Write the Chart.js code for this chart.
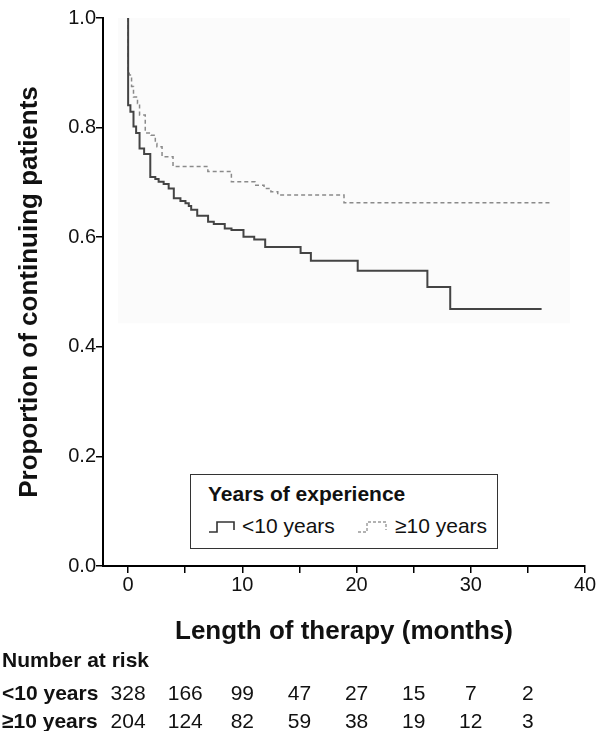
<!DOCTYPE html>
<html>
<head>
<meta charset="utf-8">
<script src="https://cdn.jsdelivr.net/npm/chart.js@4"></script>
<style>
  body { margin: 0; background: #fff; font-family: "Liberation Sans", Arial, sans-serif; }
  #wrap { position: relative; width: 597px; height: 731px; }
  #legend {
    position: absolute; left: 190px; top: 474px; width: 308px; height: 75px;
    border: 1.5px solid #333; background: #fff; box-sizing: border-box; color: #111;
  }
  #legend .ttl { position: absolute; left: 17px; top: 7px; font-weight: bold; font-size: 21px; }
  #legend .item { position: absolute; top: 39px; font-size: 21px; display: flex; align-items: center; }
  #legend svg { margin-right: 6px; }
</style>
</head>
<body>
<div id="wrap">
  <canvas id="km" width="597" height="731"></canvas>
  <div id="legend">
    <div class="ttl">Years of experience</div>
    <div class="item" style="left:17px">
      <svg width="28" height="16"><polyline points="1,14 9,14 9,4 26,4 26,12" fill="none" stroke="#333" stroke-width="1.6"/></svg>&lt;10 years
    </div>
    <div class="item" style="left:166px">
      <svg width="32" height="16"><polyline points="1,14 10,14 10,4 29,4 29,12" fill="none" stroke="#999" stroke-width="1.4" stroke-dasharray="3,2"/></svg>≥10 years
    </div>
  </div>
</div>
<script>
// data (months, proportion still on therapy)
const under10Months = [0, 0, 0.2, 0.47, 0.7, 1.0, 1.4, 1.94, 2.38, 2.67, 3.11, 3.55, 4.0, 4.58, 5.02, 5.31, 5.52, 6.05, 7.0, 7.5, 8.46, 9.05, 10.1, 11.04, 12.0, 15.1, 16.0, 20.1, 26.2, 28.2, 36.2];
const under10Surv = [1.0, 0.841, 0.829, 0.802, 0.79, 0.762, 0.752, 0.71, 0.706, 0.701, 0.697, 0.689, 0.671, 0.666, 0.662, 0.657, 0.65, 0.639, 0.628, 0.624, 0.616, 0.613, 0.601, 0.596, 0.582, 0.571, 0.557, 0.539, 0.509, 0.469, 0.469];

const over10Months = [0, 0, 0.1, 0.3, 0.47, 0.82, 1.0, 1.5, 2.0, 2.38, 2.52, 2.97, 3.93, 6.98, 9.04, 11.1, 11.9, 12.5, 13.1, 18.9, 36.9];
const over10Surv = [1.0, 0.899, 0.896, 0.875, 0.856, 0.844, 0.823, 0.79, 0.786, 0.771, 0.765, 0.747, 0.729, 0.72, 0.701, 0.695, 0.689, 0.683, 0.677, 0.663, 0.663];

const xTicks = [0, 5, 10, 15, 20, 25, 30, 35, 40];
const yTicks = [0, 0.2, 0.4, 0.6, 0.8, 1.0];

const riskMonths = [0, 5, 10, 15, 20, 25, 30, 35];
const riskUnder10 = [328, 166, 99, 47, 27, 15, 7, 2];
const riskOver10 = [204, 124, 82, 59, 38, 19, 12, 3];

const FONT = '"Liberation Sans", Arial, sans-serif';
const TICK_FONT = { family: FONT, size: 20 };

function toPoints(xs, ys) {
  return xs.map((x, i) => ({ x: x, y: ys[i] }));
}

// faint grey panel behind the curves (scanned original)
const panelPlugin = {
  id: 'panel',
  beforeDatasetsDraw(chart) {
    const { ctx, scales: { x, y } } = chart;
    const l = x.getPixelForValue(-0.9), r = x.getPixelForValue(38.7);
    const t = y.getPixelForValue(1.0), b = y.getPixelForValue(0.443);
    ctx.save();
    ctx.fillStyle = '#fbfbfb';
    ctx.fillRect(l, t, r - l, b - t);
    ctx.restore();
  }
};

// number-at-risk table under the x axis
const riskPlugin = {
  id: 'risk',
  afterDraw(chart) {
    const { ctx, scales: { x } } = chart;
    ctx.save();
    ctx.fillStyle = '#111';
    ctx.textBaseline = 'middle';
    ctx.textAlign = 'left';
    ctx.font = 'bold 21px ' + FONT;
    ctx.fillText('Number at risk', 2, 661);
    ctx.fillText('<10 years', 2, 694);
    ctx.fillText('\u226510 years', 2, 722);
    ctx.font = '21px ' + FONT;
    ctx.textAlign = 'center';
    riskMonths.forEach((m, i) => {
      const px = x.getPixelForValue(m);
      ctx.fillText(String(riskUnder10[i]), px, 694);
      ctx.fillText(String(riskOver10[i]), px, 722);
    });
    ctx.restore();
  }
};

Chart.defaults.font.family = FONT;
Chart.defaults.font.size = 20;

new Chart(document.getElementById('km'), {
  type: 'line',
  data: {
    datasets: [
      {
        label: '<10 years',
        data: toPoints(under10Months, under10Surv),
        stepped: true,
        borderColor: '#444',
        borderWidth: 2,
        pointRadius: 0,
        fill: false
      },
      {
        label: '\u226510 years',
        data: toPoints(over10Months, over10Surv),
        stepped: true,
        borderColor: '#8a8a8a',
        borderWidth: 1.5,
        borderDash: [4, 3],
        pointRadius: 0,
        fill: false
      }
    ]
  },
  options: {
    responsive: false,
    animation: false,
    layout: { padding: { top: 18, right: 12, left: 0, bottom: 0 } },
    plugins: { legend: { display: false }, tooltip: { enabled: false } },
    scales: {
      x: {
        type: 'linear',
        min: -2.2,
        max: 40,
        afterFit(scale) { scale.height = 165; },
        afterBuildTicks(scale) { scale.ticks = xTicks.map(v => ({ value: v })); },
        grid: { display: true, drawOnChartArea: false, drawTicks: true, tickLength: 7, color: '#000', lineWidth: 1.5 },
        border: { display: true, color: '#000', width: 2 },
        ticks: {
          color: '#111',
          font: TICK_FONT,
          padding: 0,
          maxRotation: 0,
          autoSkip: false,
          callback: v => (v % 10 === 0 ? String(v) : '')
        },
        title: {
          display: true,
          text: 'Length of therapy (months)',
          color: '#111',
          font: { family: FONT, size: 26, weight: 'bold' },
          padding: { top: 0, bottom: 84 }
        }
      },
      y: {
        min: 0,
        max: 1,
        afterFit(scale) { scale.width = 103; },
        afterBuildTicks(scale) { scale.ticks = yTicks.map(v => ({ value: v })); },
        grid: { display: true, drawOnChartArea: false, drawTicks: true, tickLength: 7, color: '#000', lineWidth: 1.5 },
        border: { display: true, color: '#000', width: 2 },
        ticks: {
          color: '#111',
          font: TICK_FONT,
          padding: 0,
          callback: v => v.toFixed(1)
        },
        title: {
          display: true,
          text: 'Proportion of continuing patients',
          color: '#111',
          font: { family: FONT, size: 26, weight: 'bold' },
          padding: { top: 14, bottom: 0 }
        }
      }
    }
  },
  plugins: [panelPlugin, riskPlugin]
});
</script>
</body>
</html>
